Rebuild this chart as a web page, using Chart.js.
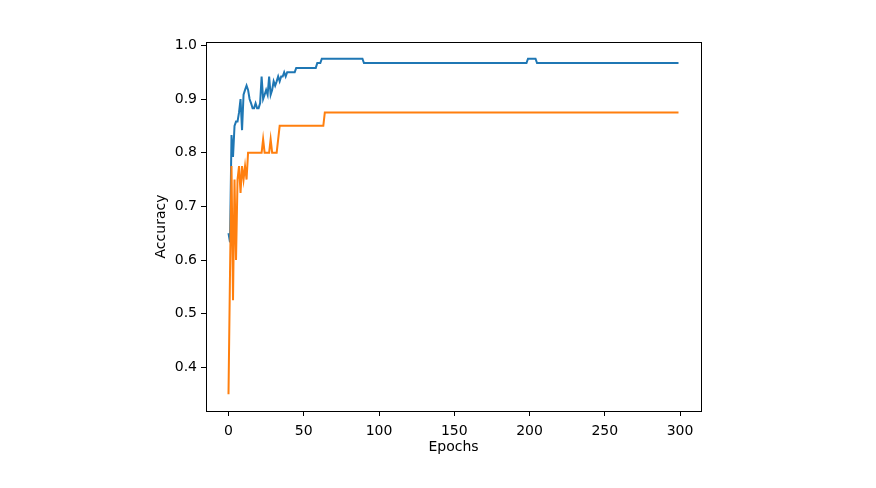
<!DOCTYPE html>
<html>
<head>
<meta charset="utf-8">
<script src="https://cdn.jsdelivr.net/npm/chart.js@4.4.1/dist/chart.umd.min.js"></script>
<style>
  html, body { margin: 0; padding: 0; background: #fff; }
  canvas { display: block; }
</style>
</head>
<body>
<canvas id="acc" width="876" height="488"></canvas>
<script>
// values; flat runs are kept as their end points only
const trainEpochs = [0, 1, 2, 3, 4, 5, 6, 7, 8, 9, 10, 11, 12, 13, 14, 15, 16, 17, 18, 19,
  20, 21, 22, 23, 24, 25, 26, 27, 28, 29, 30, 31, 32, 33, 34, 35, 36, 37, 38, 39,
  40, 44, 45, 58, 59, 61, 62, 89, 90, 198, 199, 204, 205, 299];
const trainAcc = [0.650, 0.633, 0.833, 0.792, 0.850, 0.858, 0.858, 0.875, 0.900, 0.842,
  0.908, 0.917, 0.925, 0.917, 0.900, 0.892, 0.883, 0.883, 0.892, 0.883,
  0.883, 0.892, 0.942, 0.900, 0.908, 0.917, 0.908, 0.942, 0.908, 0.917,
  0.933, 0.925, 0.933, 0.942, 0.933, 0.942, 0.942, 0.950, 0.942, 0.950,
  0.950, 0.950, 0.958, 0.958, 0.967, 0.967, 0.975, 0.975, 0.967, 0.967,
  0.975, 0.975, 0.967, 0.967];

const valEpochs = [0, 1, 2, 3, 4, 5, 6, 7, 8, 9, 10, 11, 12, 13, 22, 23, 24, 27, 28, 29,
  32, 33, 34, 63, 64, 299];
const valAcc = [0.350, 0.575, 0.775, 0.525, 0.750, 0.600, 0.750, 0.775, 0.725, 0.775,
  0.750, 0.775, 0.750, 0.800, 0.800, 0.825, 0.800, 0.800, 0.825, 0.800,
  0.800, 0.825, 0.850, 0.850, 0.875, 0.875];

const xTicks = [0, 50, 100, 150, 200, 250, 300];
const yTicks = [0.4, 0.5, 0.6, 0.7, 0.8, 0.9, 1.0];

const toPoints = (xs, ys) => xs.map((x, i) => ({ x: x, y: ys[i] }));

const FONT = { family: "'DejaVu Sans', sans-serif", size: 14 };

// matplotlib style box round the plot
const frame = {
  id: 'frame',
  afterDraw(chart) {
    const { ctx, chartArea: a } = chart;
    ctx.save();
    ctx.strokeStyle = '#000';
    ctx.lineWidth = 1;
    ctx.strokeRect(Math.round(a.left) + 0.5, Math.round(a.top) + 0.5,
      Math.round(a.right - a.left), Math.round(a.bottom - a.top));
    ctx.restore();
  }
};

new Chart(document.getElementById('acc'), {
  type: 'line',
  data: {
    datasets: [
      {
        label: 'train',
        data: toPoints(trainEpochs, trainAcc),
        borderColor: '#1f77b4',
        borderWidth: 2,
        pointRadius: 0,
        tension: 0,
        order: 2
      },
      {
        label: 'val',
        data: toPoints(valEpochs, valAcc),
        borderColor: '#ff7f0e',
        borderWidth: 2,
        pointRadius: 0,
        tension: 0,
        order: 1
      }
    ]
  },
  options: {
    responsive: false,
    animation: false,
    layout: { padding: { left: 150, top: 42, right: 175, bottom: 27 } },
    plugins: { legend: { display: false }, tooltip: { enabled: false } },
    scales: {
      x: {
        type: 'linear',
        min: -14.95,
        max: 313.95,
        afterBuildTicks: s => { s.ticks = xTicks.map(v => ({ value: v })); },
        afterFit: s => { s.height = 50; },
        grid: { drawOnChartArea: false, color: '#000', tickLength: 5, lineWidth: 1 },
        border: { display: false },
        ticks: { color: '#000', font: FONT, padding: 7, maxRotation: 0 },
        title: { display: true, text: 'Epochs', color: '#000', font: FONT, padding: { top: 0, bottom: 5 } }
      },
      y: {
        min: 0.31875,
        max: 1.00625,
        afterBuildTicks: s => { s.ticks = yTicks.map(v => ({ value: v })); },
        afterFit: s => { s.width = 56; },
        grid: { drawOnChartArea: false, color: '#000', tickLength: 5, lineWidth: 1 },
        border: { display: false },
        ticks: { color: '#000', font: FONT, padding: 4, callback: v => v.toFixed(1) },
        title: { display: true, text: 'Accuracy', color: '#000', font: FONT, padding: { top: 3, bottom: 0 } }
      }
    }
  },
  plugins: [frame]
});
</script>
</body>
</html>
